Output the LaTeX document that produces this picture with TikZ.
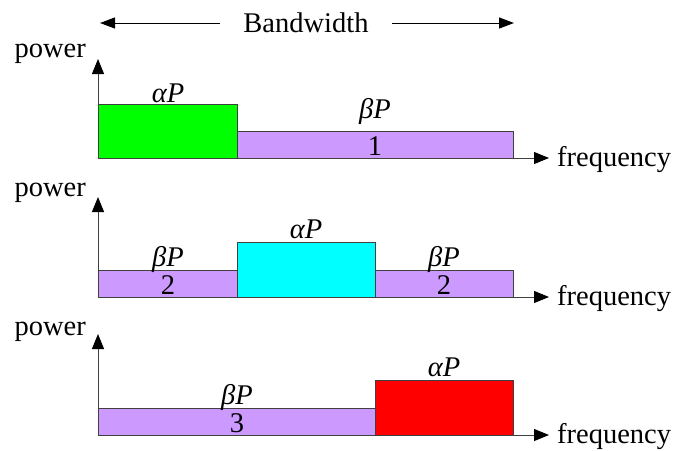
\documentclass[tikz,border=0pt]{standalone}
\usepackage{fontspec}
\setmainfont{Liberation Serif}
\usetikzlibrary{arrows.meta}
\definecolor{bandpurple}{HTML}{CC99FF}
\definecolor{axisgray}{HTML}{404040}
\definecolor{bandgreen}{HTML}{00FF00}
\definecolor{bandcyan}{HTML}{00FFFF}
\definecolor{bandred}{HTML}{FF0000}
\tikzset{
  every node/.style={font=\fontsize{28.5}{32}\selectfont, inner sep=0pt},
  axis/.style={draw=axisgray, line width=1pt, -{Triangle[length=15pt,width=12pt,color=black]}},
  band/.style={draw=axisgray, line width=1pt},
  lbl/.style={anchor=base},
  ital/.style={anchor=base, font=\fontsize{28.5}{32}\selectfont\itshape},
  bwarrow/.style={draw=black, line width=1pt, -{Triangle[length=15pt,width=11pt]}}
}
\begin{document}
\begin{tikzpicture}[x=1pt,y=-1pt]
\useasboundingbox (0,0) rectangle (691,450);
% Bandwidth
\node (bw) at (306,23) {Bandwidth};
\coordinate (bwl) at (100,23);
\coordinate (bwr) at (514,23);
\coordinate (bwla) at (220,23);
\coordinate (bwra) at (392,23);
\draw[bwarrow] (bwla) -- (bwl);
\draw[bwarrow] (bwra) -- (bwr);

% Panel 1
\coordinate (o1) at (98,158);
\coordinate (y1) at (98,59);
\coordinate (x1) at (549,158);
\draw[band, fill=bandgreen] (98,104) rectangle (237,158);
\draw[band, fill=bandpurple] (237,131) rectangle (513,158);
\draw[axis] (o1) -- (y1);
\draw[axis] (o1) -- (x1);
\node[anchor=east] (p1) at (86,54) {power};
\node[anchor=west] (f1) at (557,160) {frequency};
\node[ital] (a1) at (168,102) {αP};
\node[ital] (b1) at (375,118) {βP};
\node[lbl] (n1) at (375,155) {1};

% Panel 2
\coordinate (o2) at (98,297);
\coordinate (y2) at (98,197);
\coordinate (x2) at (549,297);
\draw[band, fill=bandpurple] (98,270) rectangle (237,297);
\draw[band, fill=bandcyan] (237,242) rectangle (375,297);
\draw[band, fill=bandpurple] (375,270) rectangle (513,297);
\draw[axis] (o2) -- (y2);
\draw[axis] (o2) -- (x2);
\node[anchor=east] (p2) at (86,193) {power};
\node[anchor=west] (f2) at (557,299) {frequency};
\node[ital] (a2) at (306,238) {αP};
\node[ital] (b2l) at (168,266) {βP};
\node[ital] (b2r) at (444,266) {βP};
\node[lbl] (n2l) at (168,294) {2};
\node[lbl] (n2r) at (444,294) {2};

% Panel 3
\coordinate (o3) at (98,435);
\coordinate (y3) at (98,334);
\coordinate (x3) at (549,435);
\draw[band, fill=bandpurple] (98,408) rectangle (375,435);
\draw[band, fill=bandred] (375,380) rectangle (513,435);
\draw[axis] (o3) -- (y3);
\draw[axis] (o3) -- (x3);
\node[anchor=east] (p3) at (86,332) {power};
\node[anchor=west] (f3) at (557,437) {frequency};
\node[ital] (a3) at (444,376) {αP};
\node[ital] (b3) at (237,404) {βP};
\node[lbl] (n3) at (237,432) {3};
\end{tikzpicture}
\end{document}
